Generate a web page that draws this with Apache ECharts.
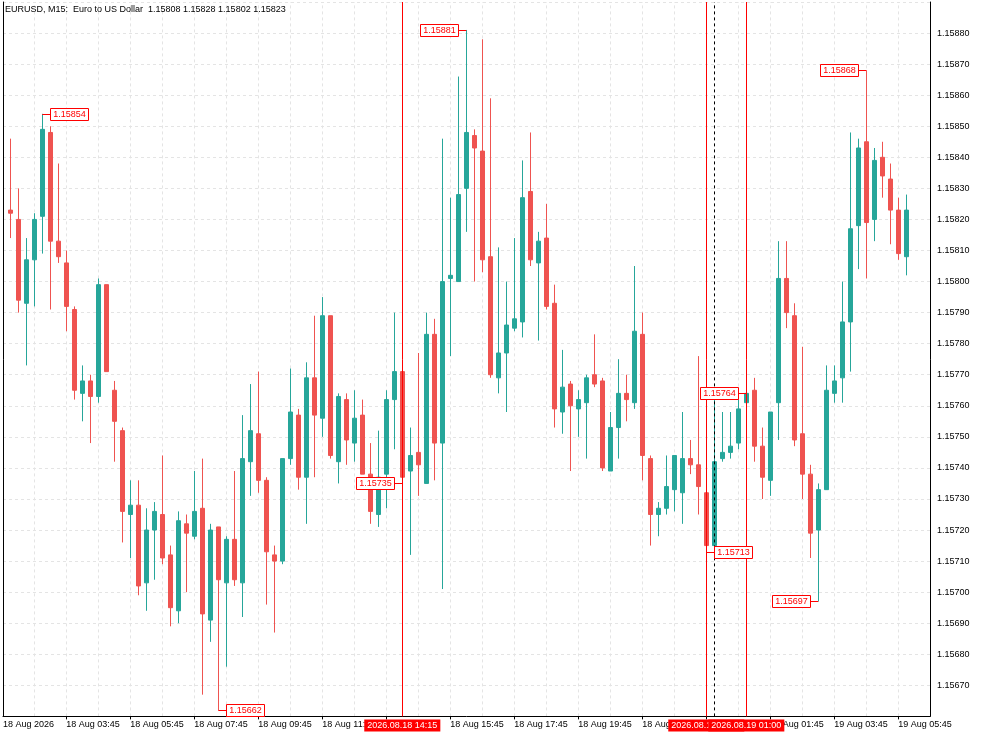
<!DOCTYPE html>
<html>
<head>
<meta charset="utf-8">
<title>EURUSD, M15</title>
<script src="https://cdn.jsdelivr.net/npm/echarts@6/dist/echarts.min.js"></script>
<style>
    html, body { margin: 0; padding: 0; background: #fff; }
    #chart { width: 983px; height: 737px; }
</style>
</head>
<body>
<div id="chart"></div>
<script>
// bars 1..113, 18 Aug 02:00 -> 19 Aug 06:00 (M15)
const opens = [1.15823, 1.15820, 1.15793, 1.15807, 1.15821, 1.15848, 1.15813, 1.15806, 1.15791, 1.15764,
    1.15768, 1.15763, 1.15799, 1.15765, 1.15752, 1.15725, 1.15728, 1.15703, 1.15720, 1.15725,
    1.15712, 1.15694, 1.15722, 1.15718, 1.15727, 1.15691, 1.15721, 1.15703, 1.15717, 1.15703,
    1.15742, 1.15751, 1.15736, 1.15712, 1.15710, 1.15743, 1.15757, 1.15737, 1.15769, 1.15756,
    1.15789, 1.15742, 1.15762, 1.15748, 1.15757, 1.15738, 1.15725, 1.15738, 1.15762, 1.15771,
    1.15739, 1.15745, 1.15735, 1.15783, 1.15748, 1.15801, 1.15800, 1.15830, 1.15847, 1.15842,
    1.15808, 1.15769, 1.15777, 1.15785, 1.15787, 1.15829, 1.15806, 1.15814, 1.15793, 1.15758,
    1.15767, 1.15759, 1.15761, 1.15770, 1.15768, 1.15739, 1.15753, 1.15764, 1.15761, 1.15783,
    1.15743, 1.15725, 1.15727, 1.15733, 1.15732, 1.15743, 1.15741, 1.15732, 1.15715, 1.15743,
    1.15745, 1.15748, 1.15761, 1.15765, 1.15747, 1.15736, 1.15761, 1.15801, 1.15789, 1.15751,
    1.15738, 1.15720, 1.15733, 1.15764, 1.15769, 1.15787, 1.15818, 1.15845, 1.15820, 1.15840,
    1.15833, 1.15823, 1.15808]
const closes = [1.15822, 1.15794, 1.15807, 1.15820, 1.15849, 1.15813, 1.15808, 1.15792, 1.15765, 1.15768,
    1.15763, 1.15799, 1.15771, 1.15755, 1.15726, 1.15728, 1.15702, 1.15720, 1.15726, 1.15711,
    1.15695, 1.15723, 1.15719, 1.15726, 1.15693, 1.15720, 1.15704, 1.15717, 1.15704, 1.15743,
    1.15752, 1.15736, 1.15713, 1.15710, 1.15743, 1.15758, 1.15737, 1.15769, 1.15757, 1.15789,
    1.15744, 1.15763, 1.15749, 1.15756, 1.15738, 1.15726, 1.15737, 1.15762, 1.15771, 1.15737,
    1.15744, 1.15741, 1.15783, 1.15748, 1.15800, 1.15802, 1.15828, 1.15848, 1.15843, 1.15807,
    1.15770, 1.15777, 1.15786, 1.15788, 1.15827, 1.15807, 1.15813, 1.15792, 1.15759, 1.15766,
    1.15760, 1.15762, 1.15769, 1.15767, 1.15740, 1.15753, 1.15764, 1.15762, 1.15784, 1.15744,
    1.15725, 1.15727, 1.15734, 1.15744, 1.15743, 1.15741, 1.15734, 1.15715, 1.15742, 1.15745,
    1.15747, 1.15759, 1.15764, 1.15747, 1.15737, 1.15758, 1.15801, 1.15790, 1.15749, 1.15738,
    1.15719, 1.15733, 1.15765, 1.15768, 1.15787, 1.15817, 1.15843, 1.15819, 1.15839, 1.15834,
    1.15823, 1.15809, 1.15823]
const lows = [1.15814, 1.15790, 1.15773, 1.15792, 1.15809, 1.15791, 1.15806, 1.15784, 1.15762, 1.15755,
    1.15748, 1.15761, 1.15771, 1.15742, 1.15716, 1.15711, 1.15699, 1.15694, 1.15704, 1.15709,
    1.15689, 1.15690, 1.15700, 1.15717, 1.15667, 1.15684, 1.15662, 1.15676, 1.15702, 1.15692,
    1.15731, 1.15732, 1.15696, 1.15687, 1.15709, 1.15741, 1.15733, 1.15722, 1.15737, 1.15750,
    1.15743, 1.15735, 1.15741, 1.15742, 1.15738, 1.15722, 1.15721, 1.15727, 1.15746, 1.15735,
    1.15712, 1.15731, 1.15735, 1.15736, 1.15701, 1.15776, 1.15800, 1.15816, 1.15800, 1.15803,
    1.15769, 1.15764, 1.15758, 1.15784, 1.15782, 1.15805, 1.15781, 1.15791, 1.15753, 1.15751,
    1.15739, 1.15750, 1.15743, 1.15766, 1.15739, 1.15739, 1.15743, 1.15755, 1.15759, 1.15736,
    1.15715, 1.15718, 1.15725, 1.15726, 1.15722, 1.15738, 1.15725, 1.15713, 1.15715, 1.15742,
    1.15743, 1.15746, 1.15761, 1.15742, 1.15730, 1.15731, 1.15749, 1.15785, 1.15747, 1.15730,
    1.15711, 1.15697, 1.15733, 1.15761, 1.15761, 1.15771, 1.15804, 1.15801, 1.15813, 1.15827,
    1.15812, 1.15807, 1.15802]
const highs = [1.15846, 1.15830, 1.15814, 1.15822, 1.15854, 1.15850, 1.15838, 1.15810, 1.15792, 1.15773,
    1.15770, 1.15801, 1.15799, 1.15768, 1.15753, 1.15736, 1.15736, 1.15727, 1.15729, 1.15744,
    1.15715, 1.15726, 1.15725, 1.15739, 1.15743, 1.15722, 1.15721, 1.15718, 1.15739, 1.15757,
    1.15767, 1.15771, 1.15737, 1.15715, 1.15743, 1.15772, 1.15759, 1.15774, 1.15789, 1.15795,
    1.15789, 1.15764, 1.15764, 1.15765, 1.15762, 1.15748, 1.15752, 1.15765, 1.15790, 1.15771,
    1.15753, 1.15777, 1.15790, 1.15788, 1.15846, 1.15827, 1.15866, 1.15881, 1.15849, 1.15878,
    1.15859, 1.15811, 1.15800, 1.15814, 1.15839, 1.15848, 1.15816, 1.15825, 1.15799, 1.15778,
    1.15768, 1.15765, 1.15770, 1.15783, 1.15769, 1.15758, 1.15775, 1.15770, 1.15805, 1.15790,
    1.15744, 1.15729, 1.15744, 1.15744, 1.15758, 1.15749, 1.15776, 1.15735, 1.15763, 1.15758,
    1.15758, 1.15764, 1.15764, 1.15769, 1.15753, 1.15758, 1.15813, 1.15813, 1.15793, 1.15779,
    1.15741, 1.15735, 1.15773, 1.15773, 1.15800, 1.15848, 1.15846, 1.15868, 1.15843, 1.15845,
    1.15838, 1.15827, 1.15828]

// time axis labels (bar number -> text)
const firstLabel = '18 Aug 2026'
const tickBars = [8, 16, 24, 32, 40, 48, 56, 64, 72, 80, 88, 96, 104, 112]
const tickLabels = ['18 Aug 03:45', '18 Aug 05:45', '18 Aug 07:45', '18 Aug 09:45', '18 Aug 11:45',
    '18 Aug 13:45', '18 Aug 15:45', '18 Aug 17:45', '18 Aug 19:45', '18 Aug 21:45',
    '18 Aug 23:45', '19 Aug 01:45', '19 Aug 03:45', '19 Aug 05:45']
const gridBars = [4, 8, 12, 16, 20, 24, 28, 32, 36, 40, 44, 48, 52, 56, 60, 64, 68, 72, 76, 80,
    84, 88, 92, 96, 100, 104, 108, 112]

// vertical lines
const vLineBars = [50, 88, 93]
const vLineLabels = ['2026.08.18 14:15', '2026.08.18 23:45', '2026.08.19 01:00']
const sepBar = 89

// bid line
const lastPrice = 1.15823

// price labels on highs / lows
const markBars = [5, 58, 27, 50, 93, 88, 102, 108]
const markPrices = [1.15854, 1.15881, 1.15662, 1.15735, 1.15764, 1.15713, 1.15697, 1.15868]
const markSides = [1, -1, 1, -1, -1, 1, -1, -1]

const font = 'Liberation Sans'
const green = '#26a69a'
const red = '#ef5350'
const xMin = 0.0875
const xMax = 115.9625
const yMin = 1.1566
const yMax = 1.1589

let candles = opens.map((o, i) => [i + 1, o, closes[i], lows[i], highs[i]])
let priceMarks = markBars.map((b, i) => [b, markPrices[i], markSides[i]])

let chart = echarts.init(document.getElementById('chart'), null, { renderer: 'canvas' })

let option = {
    animation: false,
    backgroundColor: '#fff',
    title: {
        text: 'EURUSD, M15:  Euro to US Dollar  1.15808 1.15828 1.15802 1.15823',
        left: 5,
        top: 5,
        padding: 0,
        textStyle: { fontSize: 9, fontWeight: 'normal', color: '#000', fontFamily: font }
    },
    grid: { left: 3, right: 53, top: 2, bottom: 20.6 },
    xAxis: {
        type: 'value',
        min: xMin,
        max: xMax,
        axisLine: { show: true, onZero: false, lineStyle: { color: '#000', width: 1 } },
        axisTick: { show: true, customValues: tickBars, length: 3, lineStyle: { color: '#000' } },
        axisLabel: {
            show: true,
            customValues: [xMin].concat(tickBars),
            align: 'left',
            margin: 4,
            fontSize: 9,
            color: '#000',
            fontFamily: font,
            formatter(v) {
                if (Math.abs(v - xMin) < 0.01) return firstLabel
                let k = tickBars.indexOf(Math.round(v))
                return k >= 0 ? tickLabels[k] : ''
            }
        },
        splitLine: { show: false }
    },
    yAxis: [{
            type: 'value',
            position: 'right',
            min: yMin,
            max: yMax,
            interval: 0.0001,
            axisLine: { show: true, lineStyle: { color: '#000', width: 1 } },
            axisTick: { show: false },
            axisLabel: {
                showMinLabel: false,
                showMaxLabel: false,
                margin: 7,
                fontSize: 9,
                color: '#000',
                fontFamily: font,
                formatter: v => v.toFixed(5)
            },
            splitLine: { show: true, lineStyle: { color: '#e4e4e4', type: [3, 3], width: 1 } }
        },
        {
            // left frame line
            type: 'value',
            position: 'left',
            min: yMin,
            max: yMax,
            axisLine: { show: true, lineStyle: { color: '#000', width: 1 } },
            axisTick: { show: false },
            axisLabel: { show: false },
            splitLine: { show: false }
        }
    ],
    series: [{
            // vertical dashed grid, kept under the candles
            type: 'line',
            data: [],
            silent: true,
            z: 0,
            markLine: {
                z: 0,
                symbol: ['none', 'none'],
                silent: true,
                animation: false,
                label: { show: false },
                lineStyle: { color: '#e4e4e4', type: [3, 3], width: 1 },
                data: gridBars.map(b => ({ xAxis: b }))
            }
        },
        {
            type: 'candlestick',
            data: candles,
            encode: { x: 0, y: [1, 2, 3, 4] },
            barWidth: 4,
            z: 2,
            itemStyle: {
                color: green,
                color0: red,
                borderColor: green,
                borderColor0: red,
                borderWidth: 1
            },
            markLine: {
                symbol: ['none', 'none'],
                silent: true,
                animation: false,
                data: [{
                        yAxis: lastPrice,
                        lineStyle: { color: green, type: 'solid', width: 1 },
                        label: {
                            show: true,
                            position: 'end',
                            distance: 2,
                            formatter: lastPrice.toFixed(5),
                            color: '#fff',
                            backgroundColor: green,
                            padding: [2, 4, 1, 4],
                            fontSize: 9,
                            fontFamily: font
                        }
                    },
                    ...vLineBars.map((b, i) => ({
                        xAxis: b,
                        lineStyle: { color: '#ff0000', type: 'solid', width: 1 },
                        label: {
                            show: true,
                            position: 'start',
                            distance: 3,
                            formatter: vLineLabels[i],
                            color: '#fff',
                            backgroundColor: '#ff0000',
                            padding: [2, 3, 1, 3],
                            fontSize: 9,
                            fontFamily: font
                        }
                    })),
                    {
                        xAxis: sepBar,
                        lineStyle: { color: '#000', type: [3, 3], width: 1 },
                        label: { show: false }
                    }
                ]
            }
        },
        {
            // price labels
            type: 'custom',
            data: priceMarks,
            encode: { x: 0, y: 1 },
            z: 5,
            clip: false,
            silent: true,
            renderItem(params, api) {
                let p = api.coord([api.value(0), api.value(1)])
                let side = api.value(2)
                let w = 38, h = 12, gap = 8
                let y = Math.round(p[1]) + 0.5
                let bx = Math.round(side > 0 ? p[0] + gap : p[0] - gap - w) + 0.5
                return {
                    type: 'group',
                    children: [{
                            type: 'line',
                            shape: { x1: p[0], y1: y, x2: side > 0 ? bx : bx + w, y2: y },
                            style: { stroke: '#ff0000', lineWidth: 1 }
                        },
                        {
                            type: 'rect',
                            shape: { x: bx, y: y - h / 2, width: w, height: h },
                            style: { fill: '#fff', stroke: '#ff0000', lineWidth: 1 }
                        },
                        {
                            type: 'text',
                            style: {
                                text: api.value(1).toFixed(5),
                                x: bx + w / 2,
                                y: y + 0.5,
                                align: 'center',
                                verticalAlign: 'middle',
                                fill: '#ff0000',
                                fontSize: 9,
                                fontFamily: font
                            }
                        }
                    ]
                }
            }
        }
    ]
}

chart.setOption(option)
</script>
</body>
</html>
